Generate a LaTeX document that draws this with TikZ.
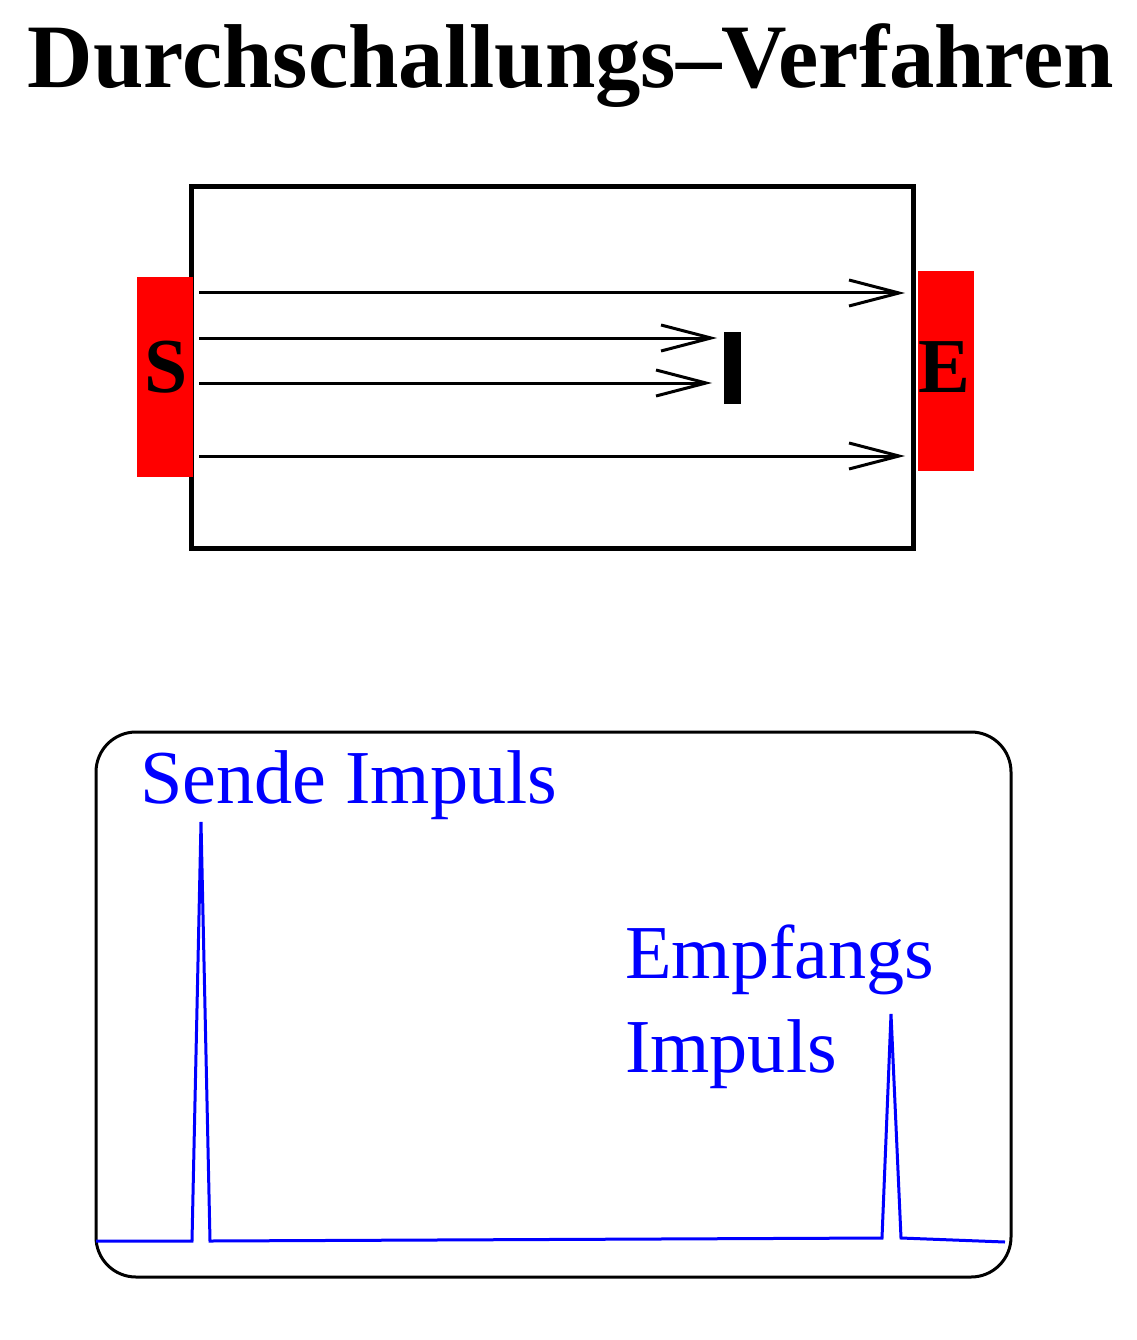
\documentclass[tikz,border=0pt]{standalone}
\usepackage{fontspec}
\setmainfont{Liberation Serif}
\usetikzlibrary{arrows.meta}
\begin{document}
\begin{tikzpicture}[x=1bp,y=-1bp,
  transducer/.style={fill=red,draw=none,minimum width=56bp,inner sep=0pt},
  tlabel/.style={font=\fontsize{78}{80}\selectfont\bfseries},
  ray/.style={line width=3bp,-{Straight Barb[length=50bp,width=26bp,line width=3bp]}},
  signal/.style={blue,line width=3bp,line join=miter},
  bluelabel/.style={text=blue,font=\fontsize{76.5}{84}\selectfont,anchor=base west,inner sep=0pt}]
\useasboundingbox (0,0) rectangle (1136,1340);
\node[font=\fontsize{91}{94}\selectfont\bfseries,anchor=base,inner sep=0pt] (title) at (571,88) {Durchschallungs--Verfahren};
% specimen
\draw[line width=5bp] (191,187) rectangle (913,548);
\node[transducer,minimum height=200bp] (S) at (165,377) {};
\node[transducer,minimum height=200bp] (E) at (946,371) {};
\node[tlabel] (Sl) at (166,367) {S};
\node[tlabel] (El) at (944,367) {E};
\node[fill=black,minimum width=17bp,minimum height=72bp,inner sep=0pt] (defect) at (732.5,368) {};
\coordinate (a1) at (199,293); \coordinate (b1) at (905,293);
\coordinate (a2) at (199,338); \coordinate (b2) at (717,338);
\coordinate (a3) at (199,383); \coordinate (b3) at (712,383);
\coordinate (a4) at (199,456); \coordinate (b4) at (905,456);
\draw[ray] (a1) -- (b1);
\draw[ray] (a2) -- (b2);
\draw[ray] (a3) -- (b3);
\draw[ray] (a4) -- (b4);
% screen
\draw[line width=3bp,rounded corners=40bp] (96,732) rectangle (1011,1277);
\draw[signal] (96,1241) -- (192,1241) -- (201,822) -- (210,1241) -- (882,1238) -- (891,1014) -- (901,1238) -- (1005,1242);
\node[bluelabel] (send) at (140,803) {Sende Impuls};
\node[bluelabel] (recv1) at (625,978) {Empfangs};
\node[bluelabel] (recv2) at (625,1072) {Impuls};
\end{tikzpicture}
\end{document}
